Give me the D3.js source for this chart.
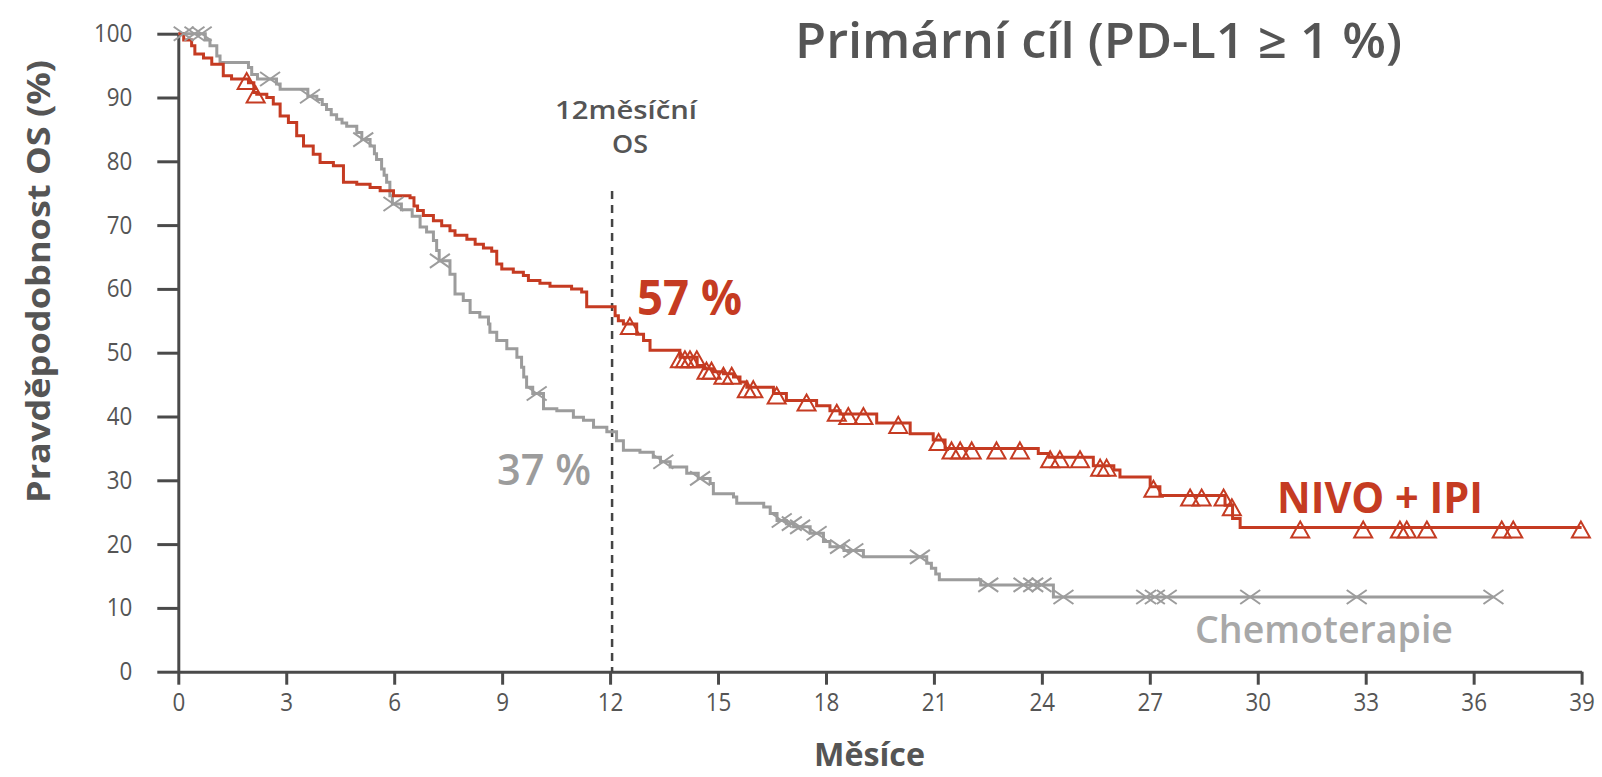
<!DOCTYPE html>
<html>
<head>
<meta charset="utf-8">
<script src="https://cdn.jsdelivr.net/npm/d3@7"></script>
<style>
    body { margin: 0; background: #fff; }
    text { font-family: "Open Sans", sans-serif; }
</style>
</head>
<body>
<div id="km_plot"></div>
<script>
// kaplan-meier curves
const nivoCurve = [[0, 100], [0.15, 99.0], [0.37, 98.1], [0.46, 96.8], [0.70, 96.2], [0.93, 95.2], [1.25, 93.4],
    [1.48, 92.9], [1.95, 92.3], [2.10, 90.8], [2.18, 90.5], [2.46, 90.0], [2.64, 89.0], [2.83, 87.1], [3.06, 86.1],
    [3.29, 84.0], [3.48, 82.4], [3.75, 81.1], [3.94, 79.8], [4.31, 79.3], [4.59, 76.7], [4.96, 76.4], [5.33, 75.9],
    [5.61, 75.4], [5.98, 74.6], [6.44, 74.3], [6.55, 73.0], [6.65, 72.3], [6.81, 71.5], [7.09, 70.7], [7.32, 69.9],
    [7.55, 69.1], [7.69, 68.4], [8.02, 67.8], [8.25, 67.0], [8.48, 66.4], [8.71, 65.9], [8.85, 63.9], [8.99, 63.1],
    [9.31, 62.6], [9.59, 62.1], [9.73, 61.3], [10.05, 60.9], [10.33, 60.4], [10.93, 60.0], [11.21, 59.5], [11.35, 57.2],
    [12.14, 55.8], [12.23, 55.0], [12.37, 54.5], [12.74, 52.9], [12.93, 51.9], [13.11, 50.4], [13.94, 49.3],
    [14.42, 48.0], [14.59, 47.5], [14.87, 47.0], [15.15, 46.7], [15.43, 46.2], [15.61, 45.4], [15.80, 44.6],
    [16.54, 43.6], [16.90, 42.5], [17.74, 41.7], [18.11, 40.9], [18.39, 40.4], [19.41, 39.0], [20.34, 37.3],
    [20.98, 36.3], [21.31, 35.0], [23.90, 34.2], [24.20, 33.6], [25.43, 32.3], [26.00, 31.6], [26.17, 30.5],
    [27.01, 29.0], [27.28, 27.6], [29.09, 26.1], [29.30, 24.0], [29.51, 22.6], [39.0, 22.6]];

const chemoCurve = [[0, 100], [0.75, 99.0], [0.88, 98.1], [1.07, 96.5], [1.16, 95.5], [1.95, 94.7], [2.04, 93.6],
    [2.20, 92.9], [2.73, 92.1], [2.83, 91.3], [3.60, 90.2], [3.85, 89.7], [4.00, 88.9], [4.12, 88.1], [4.25, 87.3],
    [4.40, 86.6], [4.55, 86.0], [4.68, 85.5], [4.96, 84.5], [5.10, 83.4], [5.33, 82.4], [5.45, 81.2], [5.51, 80.3],
    [5.65, 78.8], [5.72, 77.8], [5.79, 76.7], [5.88, 74.6], [5.95, 73.3], [6.20, 72.4], [6.50, 71.4], [6.72, 69.7],
    [6.90, 68.9], [7.09, 67.6], [7.18, 66.0], [7.25, 64.4], [7.55, 62.3], [7.69, 59.2], [7.92, 58.2], [8.11, 56.3],
    [8.38, 55.6], [8.62, 54.5], [8.66, 53.2], [8.85, 51.9], [9.13, 50.6], [9.41, 49.3], [9.54, 47.7], [9.60, 46.2],
    [9.68, 44.6], [9.85, 43.6], [10.15, 41.2], [10.52, 40.9], [10.98, 39.9], [11.26, 39.4], [11.54, 38.3],
    [11.91, 37.6], [12.18, 36.2], [12.37, 34.7], [12.83, 34.4], [13.20, 33.6], [13.40, 32.9], [13.67, 32.1],
    [14.13, 31.1], [14.45, 30.3], [14.78, 29.5], [14.87, 27.9], [15.43, 27.4], [15.52, 26.4], [16.27, 25.8],
    [16.45, 24.8], [16.64, 23.7], [16.90, 23.2], [17.10, 22.7], [17.56, 21.7], [17.93, 20.4], [18.11, 19.6],
    [18.50, 19.0], [19.04, 18.0], [20.80, 17.0], [20.93, 16.2], [21.05, 15.3], [21.15, 14.4], [22.30, 13.6],
    [24.32, 11.7], [36.55, 11.7]];

// censored patients (months)
const nivoCensor = [1.9, 2.15, 12.55, 13.94, 14.08, 14.22, 14.41, 14.68, 14.82, 15.15, 15.38, 15.80, 15.98, 16.63,
    17.46, 18.30, 18.62, 19.04, 20.01, 21.13, 21.49, 21.73, 22.05, 22.74, 23.39, 24.23, 24.50, 25.06, 25.62, 25.80,
    27.10, 28.12, 28.44, 29.05, 29.28, 31.18, 32.93, 33.95, 34.14, 34.70, 36.78, 37.10, 38.98];
const chemoCensor = [0.15, 0.45, 0.65, 2.55, 3.66, 5.14, 5.98, 7.27, 9.96, 13.48, 14.50, 16.77, 17.05, 17.28, 17.74,
    18.39, 18.76, 20.61, 22.51, 23.49, 23.76, 23.99, 24.6, 26.9, 27.14, 27.47, 29.79, 32.75, 36.55];

const xTicks = d3.range(0, 40, 3);
const yTicks = d3.range(0, 101, 10);
const landmarkMonth = 12;

const red = "#c53b22", gray = "#9c9c9c", ink = "#555555";

// canvas
const canvWidth = 1602, canvHeight = 777;
const plotLeft = 178.3, plotRight = 1581.6, plotTop = 33.7, plotBottom = 671.7;

const svg = d3.select('#km_plot')
    .append('svg')
    .attr('width', canvWidth)
    .attr('height', canvHeight);

const x = d3.scaleLinear().domain([0, 39]).range([plotLeft, plotRight]);
const y = d3.scaleLinear().domain([0, 100]).range([plotBottom, plotTop]);

// axes
const xAxis = svg.append("g")
    .attr("transform", `translate(0,${plotBottom})`)
    .call(d3.axisBottom(x).tickValues(xTicks).tickSize(13).tickSizeOuter(0).tickPadding(9));

const yAxis = svg.append("g")
    .attr("transform", `translate(${plotLeft},0)`)
    .call(d3.axisLeft(y).tickValues(yTicks).tickSize(21).tickSizeOuter(0).tickPadding(25));

// narrow, tall digits like the slide font
[xAxis, yAxis].forEach(a => {
    a.selectAll("path, line").attr("stroke", "#4a4a4a").attr("stroke-width", 3);
    a.selectAll("text")
        .style("font-family", '"Open Sans", sans-serif')
        .style("font-size", "25px")
        .attr("fill", ink)
        .attr("textLength", function () { return this.textContent.length * 12.8; })
        .attr("lengthAdjust", "spacingAndGlyphs");
});

// landmark line
svg.append("line")
    .attr("x1", x(landmarkMonth) + 2).attr("x2", x(landmarkMonth) + 2)
    .attr("y1", 191).attr("y2", plotBottom)
    .attr("stroke", "#444")
    .attr("stroke-width", 2.5)
    .attr("stroke-dasharray", "8,6");

// curves
const stepLine = d3.line()
    .x(d => x(d[0]))
    .y(d => y(d[1]))
    .curve(d3.curveStepAfter);

function survAt(curve, t) {
    const i = d3.bisectRight(curve.map(d => d[0]), t) - 1;
    return curve[Math.max(i, 0)][1];
}

svg.append("path")
    .datum(chemoCurve)
    .attr("d", stepLine)
    .attr("fill", "none")
    .attr("stroke", gray)
    .attr("stroke-width", 3);

svg.append("path")
    .datum(nivoCurve)
    .attr("d", stepLine)
    .attr("fill", "none")
    .attr("stroke", red)
    .attr("stroke-width", 3);

// censor marks
svg.selectAll(".cross")
    .data(chemoCensor)
    .join("path")
    .attr("class", "cross")
    .attr("transform", d => `translate(${x(d)},${y(survAt(chemoCurve, d))})`)
    .attr("d", "M-10,-7L10,7M-10,7L10,-7")
    .attr("fill", "none")
    .attr("stroke", gray)
    .attr("stroke-width", 2);

svg.selectAll(".tri")
    .data(nivoCensor)
    .join("path")
    .attr("class", "tri")
    .attr("transform", d => `translate(${x(d)},${y(survAt(nivoCurve, d))})`)
    .attr("d", "M0,-6L9,10L-9,10Z")
    .attr("fill", "none")
    .attr("stroke", red)
    .attr("stroke-width", 2);

// texts
function label(txt, px, py, size, weight, fill, len, anchor) {
    const t = svg.append("text")
        .attr("x", px)
        .attr("y", py)
        .attr("fill", fill)
        .style("font-size", size + "px")
        .style("font-weight", weight)
        .style("text-anchor", anchor || "start")
        .text(txt);
    if (len) t.attr("textLength", len).attr("lengthAdjust", "spacingAndGlyphs");
    return t;
}

label("Primární cíl (PD-L1 ≥ 1 %)", 795, 58, 48, 600, ink, 607);
label("12měsíční", 555, 119, 25, 600, ink, 142);
label("OS", 630, 153, 25, 600, ink, 36, "middle");
label("57 %", 637, 315, 48, 700, red, 105);
label("37 %", 497, 485, 44, 600, gray, 94);
label("NIVO + IPI", 1277, 513, 43, 700, red, 206);
label("Chemoterapie", 1195, 643, 37, 600, "#a8a8a8", 258);
label("Měsíce", 869.5, 766, 32, 700, ink, 111, "middle");

svg.append("text")
    .attr("transform", `translate(50,281.5)rotate(-90)`)
    .attr("fill", ink)
    .style("font-size", "32px")
    .style("font-weight", 700)
    .style("text-anchor", "middle")
    .attr("textLength", 443)
    .attr("lengthAdjust", "spacingAndGlyphs")
    .text("Pravděpodobnost OS (%)");
</script>
</body>
</html>
